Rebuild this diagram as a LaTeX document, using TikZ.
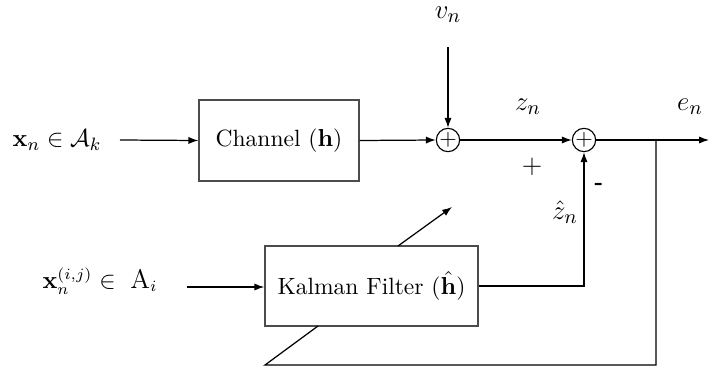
\documentclass[tikz,border=0pt]{standalone}
\usepackage{amsmath}
\usetikzlibrary{arrows.meta,calc}
\begin{document}
\begin{tikzpicture}[x=0.4464pt,y=-0.4464pt,
  blk/.style={draw=black!70,line width=0.65pt,rectangle,inner sep=0pt,font=\fontsize{10.5}{12}\selectfont},
  adder/.style={draw,circle,inner sep=0pt,minimum size=10.4pt,line width=0.5pt},
  conn/.style={line width=0.55pt},
  arr/.style={conn,-{Latex[length=4.4pt,width=3.2pt]}},
  lbl/.style={inner sep=0pt,font=\fontsize{13}{15}\selectfont}]
\useasboundingbox (0,0) rectangle (710,372);
% labels
\node[lbl,font=\fontsize{11}{13}\selectfont] (lx1) at (57,140) {$\mathbf{x}_n\in\mathcal{A}_k$};
\node[lbl,font=\fontsize{10.5}{12}\selectfont,anchor=base] (lx2) at (100,288) {$\mathbf{x}_n^{(i,j)}\in\ \text{\large A}_i$};
% blocks
\node[blk,minimum width=71.4pt,minimum height=36.2pt] (ch) at (279,140.5) {Channel ($\mathbf{h}$)};
\node[blk,minimum width=95.1pt,minimum height=35.7pt] (kf) at (371.5,286) {Kalman Filter ($\hat{\mathbf{h}}$)};
\node[adder] (a1) at (448,140) {$+$};
\node[adder] (a2) at (584,140) {$+$};
% text labels
\node[lbl] (vn) at (448,15) {$v_n$};
\node[lbl] (zn) at (528,107) {$z_n$};
\node[lbl] (en) at (690,107) {$e_n$};
\node[lbl] (zh) at (565,212) {$\hat{z}_n$};
\node[inner sep=0pt,font=\large] (pl) at (532,167) {$+$};
\node[inner sep=0pt] (mi) at (599,186) {\textbf{-}};
% coordinates
\coordinate (in1) at (120,140);
\coordinate (in2) at (187,287);
\coordinate (vs) at (448,47);
\coordinate (out) at (709,140);
\coordinate (br) at (656,140);
\coordinate (bl) at (265,365);
\coordinate (kb) at (318,326);
\coordinate (ka) at (398,246);
\coordinate (kt) at (452,207);
% connectors
\draw[arr] (in1) -- (ch.west);
\draw[arr] (ch.east) -- (a1.west);
\draw[arr] (vs) -- (a1.north);
\draw[arr] (a1.east) -- (a2.west);
\draw[arr] (a2.east) -- (out);
\draw[arr] (in2) -- (in2 -| kf.west);
\draw[arr] (kf.east) -| (a2.south);
\draw[conn] (br) |- (bl) -- (kb);
\draw[arr] (ka) -- (kt);
\end{tikzpicture}
\end{document}
